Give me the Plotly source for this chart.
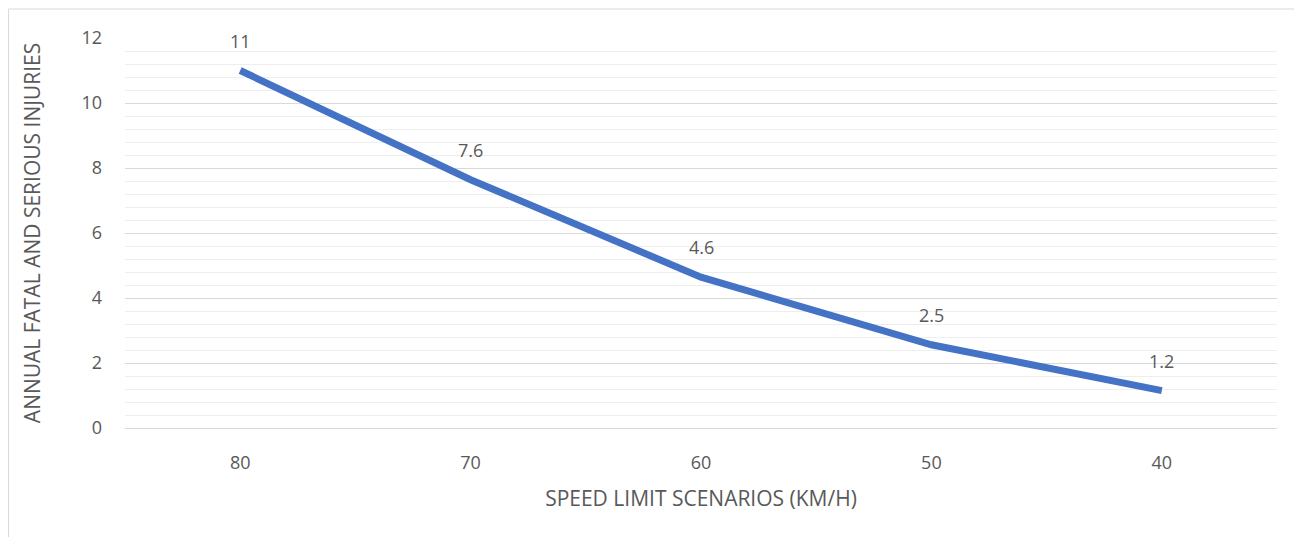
"""Annual fatal and serious injuries by speed limit scenario."""

import plotly.graph_objects as go

speed_limits = ["80", "70", "60", "50", "40"]
injuries = [11.0, 7.64, 4.64, 2.56, 1.15]
value_labels = ["11", "7.6", "4.6", "2.5", "1.2"]

y_ticks = [0, 2, 4, 6, 8, 10, 12]

FONT = "Open Sans, Carlito, Calibri, sans-serif"
GREY = "#595959"

fig = go.Figure()
fig.add_trace(
    go.Scatter(
        x=speed_limits,
        y=injuries,
        mode="lines",
        line=dict(color="#4472C4", width=7),
        hoverinfo="x+y",
        showlegend=False,
    )
)

# data labels sit well above each point, Excel style
# (x given as category index: a numeric-looking string is read as an index)
for i, (val, lab) in enumerate(zip(injuries, value_labels)):
    fig.add_annotation(
        x=i,
        y=val,
        text=lab,
        showarrow=False,
        yshift=30,
        font=dict(family=FONT, size=18, color=GREY),
    )

fig.update_layout(
    width=1302,
    height=537,
    paper_bgcolor="white",
    plot_bgcolor="white",
    margin=dict(l=117, r=33, t=30, b=117),
    font=dict(family=FONT, size=18, color=GREY),
    shapes=[
        dict(
            type="rect",
            xref="paper",
            yref="paper",
            x0=-0.1011,
            x1=1.05,
            y0=-0.40,
            y1=1.0744,
            line=dict(color="#D9D9D9", width=1),
            layer="below",
        )
    ],
)

fig.update_xaxes(
    type="category",
    range=[-0.5, 4.5],
    showgrid=False,
    showline=False,
    ticks="",
    ticklabelstandoff=22,
    title=dict(text="SPEED LIMIT SCENARIOS (KM/H)", standoff=18,
               font=dict(family=FONT, size=21, color=GREY)),
    tickfont=dict(family=FONT, size=18, color=GREY),
)

fig.update_yaxes(
    range=[0, 12],
    tickvals=y_ticks,
    showgrid=True,
    gridcolor="#D9D9D9",
    gridwidth=1.3,
    minor=dict(dtick=0.4, showgrid=True, gridcolor="#EEEEEE", gridwidth=1.3),
    zeroline=True,
    zerolinecolor="#D9D9D9",
    zerolinewidth=1.3,
    ticks="",
    ticklabelstandoff=22,
    title=dict(text="ANNUAL FATAL AND SERIOUS INJURIES", standoff=35,
               font=dict(family=FONT, size=21, color=GREY)),
    tickfont=dict(family=FONT, size=18, color=GREY),
)

fig.write_html("out.html")
